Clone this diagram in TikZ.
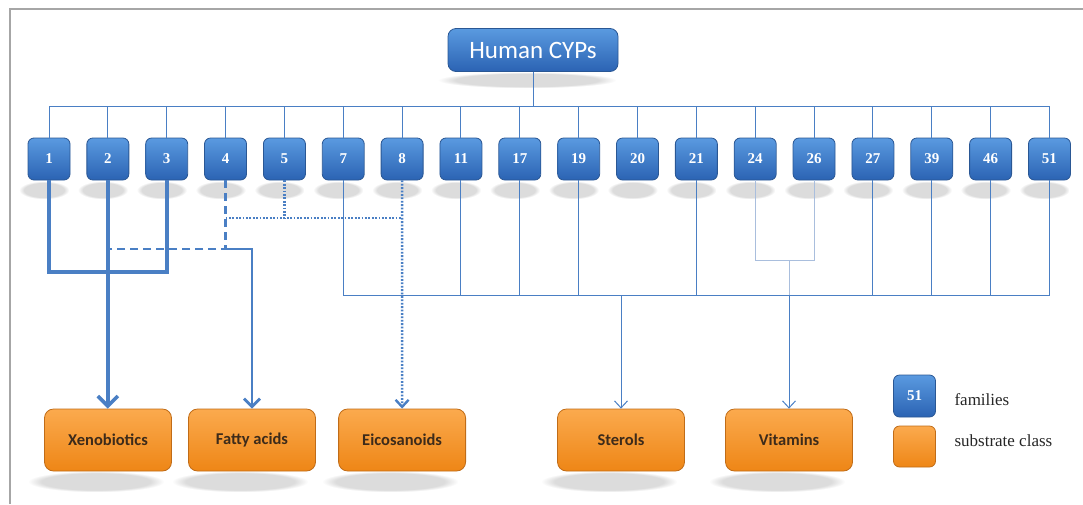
\documentclass[tikz,border=0pt]{standalone}
\usepackage{fontspec}
\setmainfont{Liberation Serif}
\setsansfont{Carlito}
\usetikzlibrary{arrows.meta,fadings}
\begin{document}
\begin{tikzpicture}[x=1pt,y=-1pt,font=\sffamily,
  famblock/.style={draw=famedge,line width=.8pt,rounded corners=6pt,top color=famtop,bottom color=fambot,minimum width=42pt,minimum height=42pt,inner sep=0pt,text=white,font=\rmfamily\bfseries\fontsize{15}{15}\selectfont},
  subblock/.style={draw=subedge,line width=.8pt,rounded corners=9pt,top color=subtop,bottom color=subbot,minimum width=127pt,minimum height=62pt,inner sep=0pt,text=subtext,font=\sffamily\bfseries\fontsize{16.5}{16.5}\selectfont},
  boxshadow/.style={fill=black!45,opacity=.3,path fading=circle with fuzzy edge 20 percent},
  link/.style={draw=lineblue,line width=1pt},
  palelink/.style={draw=paleblue,line width=.9pt},
  xenolink/.style={draw=lineblue,line width=3.6pt},
  fatlink/.style={draw=lineblue,line width=2.8pt},
  dashlink/.style={draw=lineblue,line width=2.8pt,dash pattern=on 8pt off 5pt},
  dotlink/.style={draw=lineblue,line width=2.4pt,dash pattern=on 1.8pt off 1.6pt},
  bigtip/.style={-{Straight Barb[length=10pt,width=20pt]}},
  midtip/.style={-{Straight Barb[length=8pt,width=16pt]}},
  smalltip/.style={-{Straight Barb[length=7pt,width=13pt]}}]
\definecolor{famtop}{HTML}{5A9AE0}\definecolor{fambot}{HTML}{2B63B3}
\definecolor{famedge}{HTML}{2A5794}\definecolor{subtop}{HTML}{FBAA4E}
\definecolor{subbot}{HTML}{EE8616}\definecolor{subedge}{HTML}{C06C18}
\definecolor{subtext}{HTML}{3D2B1A}\definecolor{lineblue}{HTML}{4A7FC4}
\definecolor{paleblue}{HTML}{A9BEDD}\definecolor{framegray}{HTML}{A6A6A6}
\useasboundingbox (0,0) rectangle (1083,504);
\draw[framegray,line width=1.5pt] (10,504) -- (10,9) -- (1083,9);
\coordinate (bus) at (0,106);
\coordinate (eicrow) at (0,218);
\coordinate (fatrow) at (0,249);
\coordinate (vitrow) at (0,260);
\coordinate (low) at (0,295);
\fill[boxshadow] (438,72) rectangle (616,88);
\node[famblock,minimum width=170pt,minimum height=43pt,rounded corners=8pt,font=\sffamily\fontsize{25}{25}\selectfont] (cyp) at (533,50) {Human CYPs};
\foreach \n [count=\i from 0] in {1,2,3,4,5,7,8,11,17,19,20,21,24,26,27,39,46,51}{
  \pgfmathsetmacro\cx{49+58.85*\i}
  \fill[boxshadow] (\cx-30,181) rectangle (\cx+20,199);
  \node[famblock] (f\n) at (\cx,159) {\n};
}
\foreach \name/\x/\txt in {xeno/108/Xenobiotics,fatty/252/Fatty acids,eico/402.1/Eicosanoids,ster/621/Sterols,vita/789/Vitamins}{
  \fill[boxshadow] (\x-80,471) rectangle (\x+56,492);
  \node[subblock] (\name) at (\x,440) {\txt};
}
\draw[link] (cyp.south) -- (cyp.south |- bus);
\draw[link] (f1.north) -- (f1.north |- bus) -| (f51.north);
\foreach \n in {2,3,4,5,7,8,11,17,19,20,21,24,26,27,39,46}
  \draw[link] (f\n.north) -- (f\n.north |- bus);
\draw[xenolink] (f1.south) -- (f1.south |- 0,272) -| (f3.south);
\draw[xenolink,bigtip] (f2.south) -- (f2.south |- xeno.north);
\draw[dashlink] (f4.south) -- (f4.south |- fatrow) -- (f2.south |- fatrow);
\draw[fatlink,midtip] (f4.south |- fatrow) -| (fatty.north);
\draw[dotlink] (f4.south |- eicrow) -- (f8.south |- eicrow);
\draw[dotlink] (f5.south) -- (f5.south |- eicrow);
\draw[dotlink,smalltip] (f8.south) -- (eico.north);
\draw[link] (f7.south) -- (f7.south |- low) -| (f51.south);
\foreach \n in {11,17,19,21,27,39,46}
  \draw[link] (f\n.south) -- (f\n.south |- low);
\draw[link,smalltip] (ster.north |- low) -- (ster.north);
\draw[palelink] (f24.south) -- (f24.south |- vitrow) -| (f26.south);
\draw[palelink] (vita.north |- vitrow) -- (vita.north |- low);
\draw[link,smalltip] (vita.north |- low) -- (vita.north);
\node[famblock] (lgfam) at (914.5,396) {51};
\node[subblock,minimum width=42pt,minimum height=41pt,rounded corners=6pt] (lgsub) at (914.5,446.5) {};
\node[anchor=west,font=\rmfamily\fontsize{17}{17}\selectfont,text=black!85] (lgfamtxt) at (951,400) {families};
\node[anchor=west,font=\rmfamily\fontsize{17}{17}\selectfont,text=black!85] (lgsubtxt) at (951,441) {substrate class};
\end{tikzpicture}
\end{document}
